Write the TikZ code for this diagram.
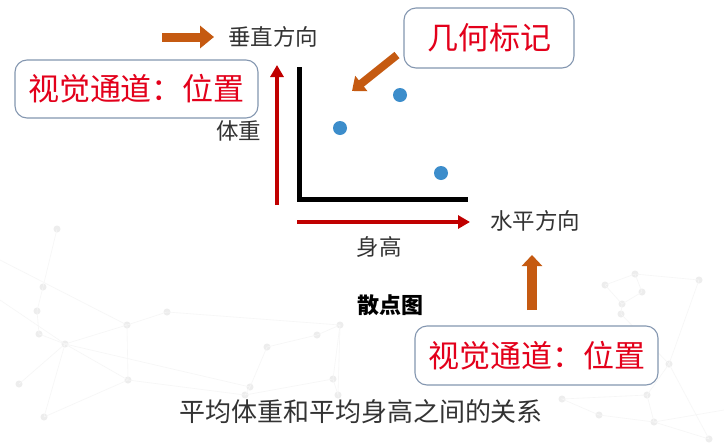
\documentclass[tikz,border=0pt]{standalone}
\usepackage{fontspec}
\newfontfamily\cjk{Noto Sans CJK SC}
\usetikzlibrary{arrows.meta}
\definecolor{orangeA}{HTML}{C55A11}
\definecolor{redA}{HTML}{C00000}
\definecolor{redT}{HTML}{E3001B}
\definecolor{boxB}{HTML}{8497B0}
\definecolor{dotB}{HTML}{3C8DCB}
\definecolor{txtG}{HTML}{333333}
\tikzset{
  chan/.style={draw=boxB, line width=1.1pt, rounded corners=12pt, fill=white,
    inner sep=0pt, text=redT, font=\cjk\fontsize{31}{31}\selectfont},
  lbl/.style={inner sep=0pt, text=txtG, font=\cjk\fontsize{22.5}{22.5}\selectfont},
  oarrow/.style={draw=orangeA, line cap=butt},
  rarrow/.style={draw=redA, line width=4pt, -{Triangle[width=13pt,length=12pt]}},
  dotmark/.style={circle, fill=dotB, inner sep=0pt, minimum size=14pt},
  bgline/.style={draw=gray!7, line width=0.6pt},
  bgdot/.style={fill=gray!14}
}
\begin{document}
\begin{tikzpicture}[x=1pt,y=-1pt]
\useasboundingbox (0,0) rectangle (724,445);
\fill[white] (0,0) rectangle (724,445);
% faint background network
\foreach \a/\b in {57/229, 43/287, 37/311, 39/334, 65/344, 127/325, 167/312, 19/384, 44/417, 128/380, 267/347, 250/387, 245/395, 333/379, 338/395, 317/335, 340/325, 635/274, 605/285, 642/292, 622/304, 621/314, 669/364, 647/395, 654/422, 599/415, 562/399, 709/439, 699/280}
  \fill[bgdot] (\a,\b) circle (3.5);
\draw[bgline] (57,229) -- (43,287) -- (37,311) -- (39,334) -- (65,344) -- (127,325) -- (167,312);
\draw[bgline] (0,300) -- (65,344) -- (250,387) -- (245,395) -- (333,379) -- (340,325) -- (317,335) -- (267,347) -- (250,387);
\draw[bgline] (19,384) -- (65,344) -- (44,417) -- (128,380) -- (65,344);
\draw[bgline] (0,260) -- (127,325) -- (128,380) -- (245,395);
\draw[bgline] (167,312) -- (340,325) -- (338,395) -- (333,379);
\draw[bgline] (599,415) -- (562,399) -- (647,395) -- (669,364) -- (621,314) -- (622,304) -- (605,285) -- (635,274) -- (642,292) -- (622,304);
\draw[bgline] (647,395) -- (654,422) -- (709,439) -- (669,364) -- (699,280) -- (635,274);
\draw[bgline] (599,415) -- (654,422) -- (724,410);
% axes
\draw[black, line width=5pt, line join=miter] (299,67) |- (468,199);
% points
\node[dotmark] (p1) at (340,128) {};
\node[dotmark] (p2) at (400,95) {};
\node[dotmark] (p3) at (441,173) {};
% labels
\node[lbl, anchor=west] (vdir) at (228,37) {垂直方向};
\node[lbl] (wt) at (238.5,131) {体重};
\node[lbl, anchor=west] (hdir) at (490,221) {水平方向};
\node[lbl] (ht) at (379,247) {身高};
\node[lbl, font=\cjk\bfseries\fontsize{22}{22}\selectfont, text=black] (sc) at (390,305) {散点图};
\node[lbl, font=\cjk\fontsize{26}{26}\selectfont] (cap) at (361,412) {平均体重和平均身高之间的关系};
% boxes
\node[chan, minimum width=243pt, minimum height=58pt] (b1) at (136.5,89) {视觉通道：位置};
\node[chan, minimum width=170pt, minimum height=60pt] (b2) at (489,38) {几何标记};
\node[chan, minimum width=243pt, minimum height=59pt] (b3) at (536.5,355.5) {视觉通道：位置};
% red axis arrows
\coordinate (vy0) at (277,205);
\coordinate (vy1) at (277,65);
\draw[rarrow] (vy0) -- (vy1);
\coordinate (hx0) at (297,222);
\coordinate (hx1) at (470,222);
\draw[rarrow] (hx0) -- (hx1);
% orange arrows
\coordinate (o1s) at (162,37);
\draw[oarrow, line width=9pt, -{Triangle[width=22pt,length=14pt]}] (o1s) -- ([xshift=-14pt]vdir.west);
\coordinate (o2s) at (397,55);
\coordinate (o2e) at (352,91);
\draw[oarrow, line width=8pt, -{Triangle[width=19pt,length=12pt]}] (o2s) -- (o2e);
\coordinate (o3s) at (532,310);
\coordinate (o3e) at (532,255);
\draw[oarrow, line width=10pt, -{Triangle[width=20pt,length=11pt]}] (o3s) -- (o3e);
\end{tikzpicture}
\end{document}
